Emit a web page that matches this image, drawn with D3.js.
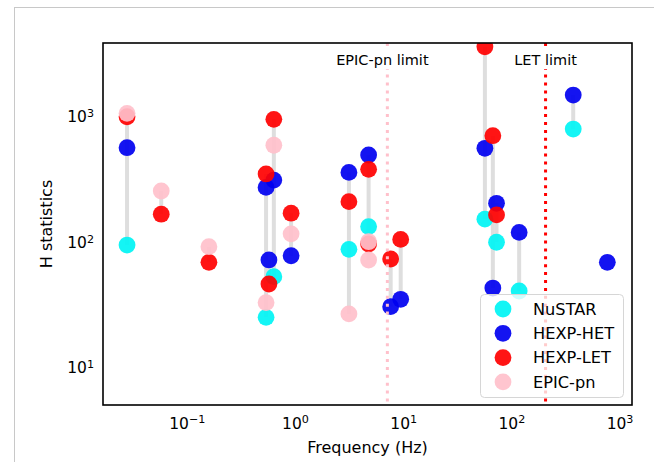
<!DOCTYPE html>
<html><head><meta charset="utf-8">
<script src="https://cdn.jsdelivr.net/npm/d3@7"></script>
<style>body{margin:0;background:#fff}svg{display:block}text{font-family:"DejaVu Sans",sans-serif;fill:#000}</style>
</head><body><svg id="c" width="654" height="462"></svg>
<script>
// Data (frequency in Hz, H statistic per instrument; null = not plotted)
const freqs  = [0.028, 0.058, 0.16, 0.54, 0.574, 0.637, 0.92, 3.15, 4.79, 4.79, 7.66, 9.48, 56.9, 67.4, 72.9, 118, 373, 771];
const nustar = [92,   null, null, 24.4, null, 51.5, null, 85,  129,  null, null, null, 148,  null, 96.8, 39.6, 773,  null];
const het    = [549,  null, null, 265,  70,   303,  75.6, 349, 480,  null, 29.7, 34,   543,  41.8, 198,  116,  1443, 67];
const letv   = [969,  162,  67,   339,  45,   924,  165,  204, 369,  93.8, 71.2, 102,  3499, 684,  160,  null, null, null];
const epic   = [1031, 248,  89.3, 32,   null, 574,  113,  26,  97.8, 69.9, null, null, null, null, null, null, null, null];
const seriesNames = ["NuSTAR", "HEXP-HET", "HEXP-LET", "EPIC-pn"];
const seriesColors = ["#00f4f4", "#0000f0", "#ff0000", "#ffc0cb"];
const limitNames = ["EPIC-pn limit", "LET limit"];
const limitFreqs = [7.14, 207];
const limitColors = ["#ffc0cb", "#ff0000"];
const xTicks = [0.1, 1, 10, 100, 1000];
const yTicks = [10, 100, 1000];

const svg = d3.select("#c");
const L = 103, R = 632, T = 43, B = 405;
const x = d3.scaleLog().domain([Math.pow(10, -1.775), Math.pow(10, 3.115)]).range([L, R]);
const y = d3.scaleLog().domain([Math.pow(10, 0.689), Math.pow(10, 3.574)]).range([B, T]);

// outer frame
svg.append("rect").attr("x", 14.5).attr("y", 7.5).attr("width", 700).attr("height", 500)
  .attr("fill", "none").attr("stroke", "#c8c8c8").attr("stroke-width", 1);

svg.append("clipPath").attr("id", "clip").append("rect")
  .attr("x", L).attr("y", T).attr("width", R - L).attr("height", B - T);
const plot = svg.append("g").attr("clip-path", "url(#clip)");

const all = [nustar, het, letv, epic];
// connecting lines
freqs.forEach((f, i) => {
  const vals = all.map(s => s[i]).filter(v => v != null);
  if (vals.length < 2) return;
  plot.append("line").attr("x1", x(f)).attr("x2", x(f))
    .attr("y1", y(d3.min(vals))).attr("y2", y(d3.max(vals)))
    .attr("stroke", "#dedede").attr("stroke-width", 4);
});
// points
all.forEach((s, k) => {
  plot.append("g").selectAll("circle")
    .data(freqs.map((f, i) => ({f, v: s[i]})).filter(d => d.v != null))
    .join("circle").attr("cx", d => x(d.f)).attr("cy", d => y(d.v)).attr("r", 8.4)
    .attr("fill", seriesColors[k]).attr("fill-opacity", 0.92);
});
// limit lines
limitFreqs.forEach((f, i) => {
  plot.append("line").attr("x1", x(f)).attr("x2", x(f)).attr("y1", T).attr("y2", B)
    .attr("stroke", limitColors[i]).attr("stroke-width", 3).attr("stroke-dasharray", "3,4.9");
});
// limit labels with white boxes
const labOff = [-5, 0];
limitFreqs.forEach((f, i) => {
  const g = svg.append("g");
  const t = g.append("text").attr("x", x(f) + labOff[i]).attr("y", 65).attr("text-anchor", "middle")
    .attr("font-size", 14.5).text(limitNames[i]);
  const bb = t.node().getBBox();
  g.insert("rect", "text").attr("x", bb.x - 2).attr("y", bb.y - 1).attr("width", bb.width + 4)
    .attr("height", bb.height + 2).attr("fill", "#fff");
});

// axes
function sup(sel, d) {
  const e = Math.round(Math.log10(d));
  sel.text(null);
  sel.append("tspan").text("10");
  sel.append("tspan").attr("dy", "-0.45em").attr("font-size", "0.72em").text(e < 0 ? "\u2212" + (-e) : e);
}
const xa = svg.append("g").attr("transform", `translate(0,${B})`)
  .call(d3.axisBottom(x).tickValues(xTicks).tickSize(0).tickPadding(0));
xa.select(".domain").remove();
xa.selectAll(".tick text").attr("font-size", 15.5).attr("font-family", "DejaVu Sans")
  .attr("dy", null).attr("y", 23.5).each(function(d) { sup(d3.select(this), d); });
const ya = svg.append("g").attr("transform", `translate(${L},0)`)
  .call(d3.axisLeft(y).tickValues(yTicks).tickSize(0).tickPadding(0));
ya.select(".domain").remove();
ya.selectAll(".tick text").attr("font-size", 15.5).attr("font-family", "DejaVu Sans")
  .attr("x", -9).attr("dy", "0.42em").each(function(d) { sup(d3.select(this), d); });

// plot frame
svg.append("rect").attr("x", L).attr("y", T).attr("width", R - L).attr("height", B - T)
  .attr("fill", "none").attr("stroke", "#000").attr("stroke-width", 1.6);

// axis labels
svg.append("text").attr("x", (L + R) / 2).attr("y", 453).attr("text-anchor", "middle")
  .attr("font-size", 16).text("Frequency (Hz)");
svg.append("text").attr("transform", `translate(52,${(T + B) / 2}) rotate(-90)`).attr("text-anchor", "middle")
  .attr("font-size", 16).text("H statistics");

// legend
const lg = svg.append("g");
lg.append("rect").attr("x", 480.5).attr("y", 294.5).attr("width", 143).attr("height", 103).attr("rx", 4)
  .attr("fill", "#fff").attr("fill-opacity", 0.8).attr("stroke", "#d6d6d6").attr("stroke-width", 1);
seriesNames.forEach((n, k) => {
  const yy = 309 + k * 24.3;
  lg.append("circle").attr("cx", 503).attr("cy", yy).attr("r", 8.4).attr("fill", seriesColors[k]).attr("fill-opacity", 0.92);
  lg.append("text").attr("x", 533).attr("y", yy).attr("dy", "0.36em").attr("font-size", 16.2).text(n);
});
</script></body></html>
